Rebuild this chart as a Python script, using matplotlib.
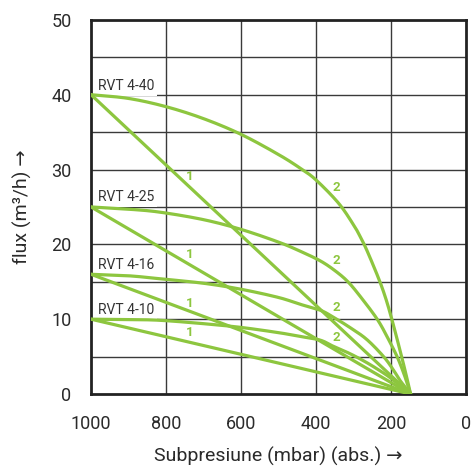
import matplotlib
matplotlib.use("Agg")
import matplotlib.pyplot as plt
import numpy as np

plt.rcParams['font.family'] = ['Roboto', 'DejaVu Sans']

# pressure (mbar abs.) and flow (m3/h)
p_end = 148
start_p = 1000
models = ["RVT 4-40", "RVT 4-25", "RVT 4-16", "RVT 4-10"]
q_max = [40, 25, 16, 10]

# curve "2" readings
p40 = [1000, 900, 800, 700, 600, 500, 440, 400, 340, 300, 283, 269, 250, 229, 215, 203, 190, 176, 162, 148]
q40 = [40, 39.5, 38.4, 36.8, 34.7, 32.0, 30.1, 28.6, 25.5, 22.6, 21.1, 19.7, 17.5, 14.9, 12.9, 10.9, 8.5, 5.8, 3.0, 0]
p25 = [1000, 900, 816, 700, 600, 500, 443, 389, 350, 315, 280, 237, 210, 184, 165, 148]
q25 = [25, 24.7, 24.3, 23.3, 22.0, 20.3, 19.1, 17.8, 16.5, 15.0, 12.9, 10.0, 7.6, 5.0, 2.6, 0]
p16 = [1000, 900, 816, 700, 600, 500, 443, 389, 355, 310, 265, 220, 195, 176, 160, 148]
q16 = [16, 15.8, 15.4, 14.8, 14.0, 12.9, 12.0, 11.2, 10.3, 8.9, 7.3, 5.0, 3.3, 1.8, 0.8, 0]
p10 = [1000, 900, 816, 700, 600, 500, 443, 389, 355, 310, 265, 220, 195, 176, 160, 148]
q10 = [10, 9.95, 9.85, 9.4, 8.9, 8.2, 7.7, 7.2, 6.4, 5.4, 4.2, 2.8, 1.9, 1.1, 0.5, 0]

curves2 = [(p40, q40), (p25, q25), (p16, q16), (p10, q10)]

label1_pos = [(736, 29.1), (736, 18.7), (736, 12.1), (736, 8.2)]
label2_pos = [(345, 27.6), (345, 17.8), (345, 11.6), (345, 7.6)]
name_pos = [(981, 41.1), (981, 26.3), (981, 17.2), (981, 11.2)]

xticks = [1000, 800, 600, 400, 200, 0]
yticks = [0, 10, 20, 30, 40, 50]

green = "#8dc63f"


def smooth_draw(ax, xs, ys, **kw):
    """Draw a Catmull-Rom spline through the given points (rendering only)."""
    x = np.asarray(xs, float)
    y = np.asarray(ys, float)
    px = np.concatenate([[2 * x[0] - x[1]], x, [2 * x[-1] - x[-2]]])
    py = np.concatenate([[2 * y[0] - y[1]], y, [2 * y[-1] - y[-2]]])
    t = np.linspace(0, 1, 20)[:-1]
    outx, outy = [], []
    for i in range(1, len(px) - 2):
        for arr, out in ((px, outx), (py, outy)):
            p0, p1, p2, p3 = arr[i - 1], arr[i], arr[i + 1], arr[i + 2]
            out.extend(0.5 * ((2 * p1) + (-p0 + p2) * t + (2 * p0 - 5 * p1 + 4 * p2 - p3) * t ** 2
                              + (-p0 + 3 * p1 - 3 * p2 + p3) * t ** 3))
    outx.append(x[-1])
    outy.append(y[-1])
    ax.plot(outx, outy, **kw)


fig = plt.figure(figsize=(4.73, 4.73), dpi=100)
ax = fig.add_axes([0.1924, 0.167, 0.793, 0.791])

ax.set_xlim(1000, 0)
ax.set_ylim(0, 50)

for x in [800, 600, 400, 200]:
    ax.axvline(x, color="#3a3a3a", lw=1.0, zorder=1)
for y in range(5, 50, 5):
    ax.axhline(y, color="#3a3a3a", lw=1.0, zorder=1)

for i, q in enumerate(q_max):
    ax.plot([start_p, p_end], [q, 0], color=green, lw=2.3, zorder=3, solid_capstyle="round")
    pc, qc = curves2[i]
    smooth_draw(ax, pc, qc, color=green, lw=2.3, zorder=3,
                solid_joinstyle="round", solid_capstyle="round")
    ax.text(label1_pos[i][0], label1_pos[i][1], "1", color=green, fontsize=9.5,
            fontweight="bold", ha="center", va="center", zorder=4)
    ax.text(label2_pos[i][0], label2_pos[i][1], "2", color=green, fontsize=9.5,
            fontweight="bold", ha="center", va="center", zorder=4)
    ax.text(name_pos[i][0], name_pos[i][1], models[i], color="#333333", fontsize=10,
            ha="left", va="center", zorder=2,
            bbox=dict(facecolor="white", edgecolor="none", pad=2.0))

ax.set_xticks(xticks)
ax.set_yticks(yticks)
ax.tick_params(length=0, labelsize=13, colors="#2a2a2a")
ax.tick_params(axis="x", pad=15)
ax.tick_params(axis="y", pad=14)
for s in ax.spines.values():
    s.set_linewidth(2.0)
    s.set_color("#222222")

ax.set_xlabel("Subpresiune (mbar) (abs.) →", fontsize=14, color="#2a2a2a", labelpad=10)
ax.set_ylabel("flux (m³/h) →", fontsize=14, color="#2a2a2a", labelpad=14)

fig.savefig("out.png", dpi=100)
